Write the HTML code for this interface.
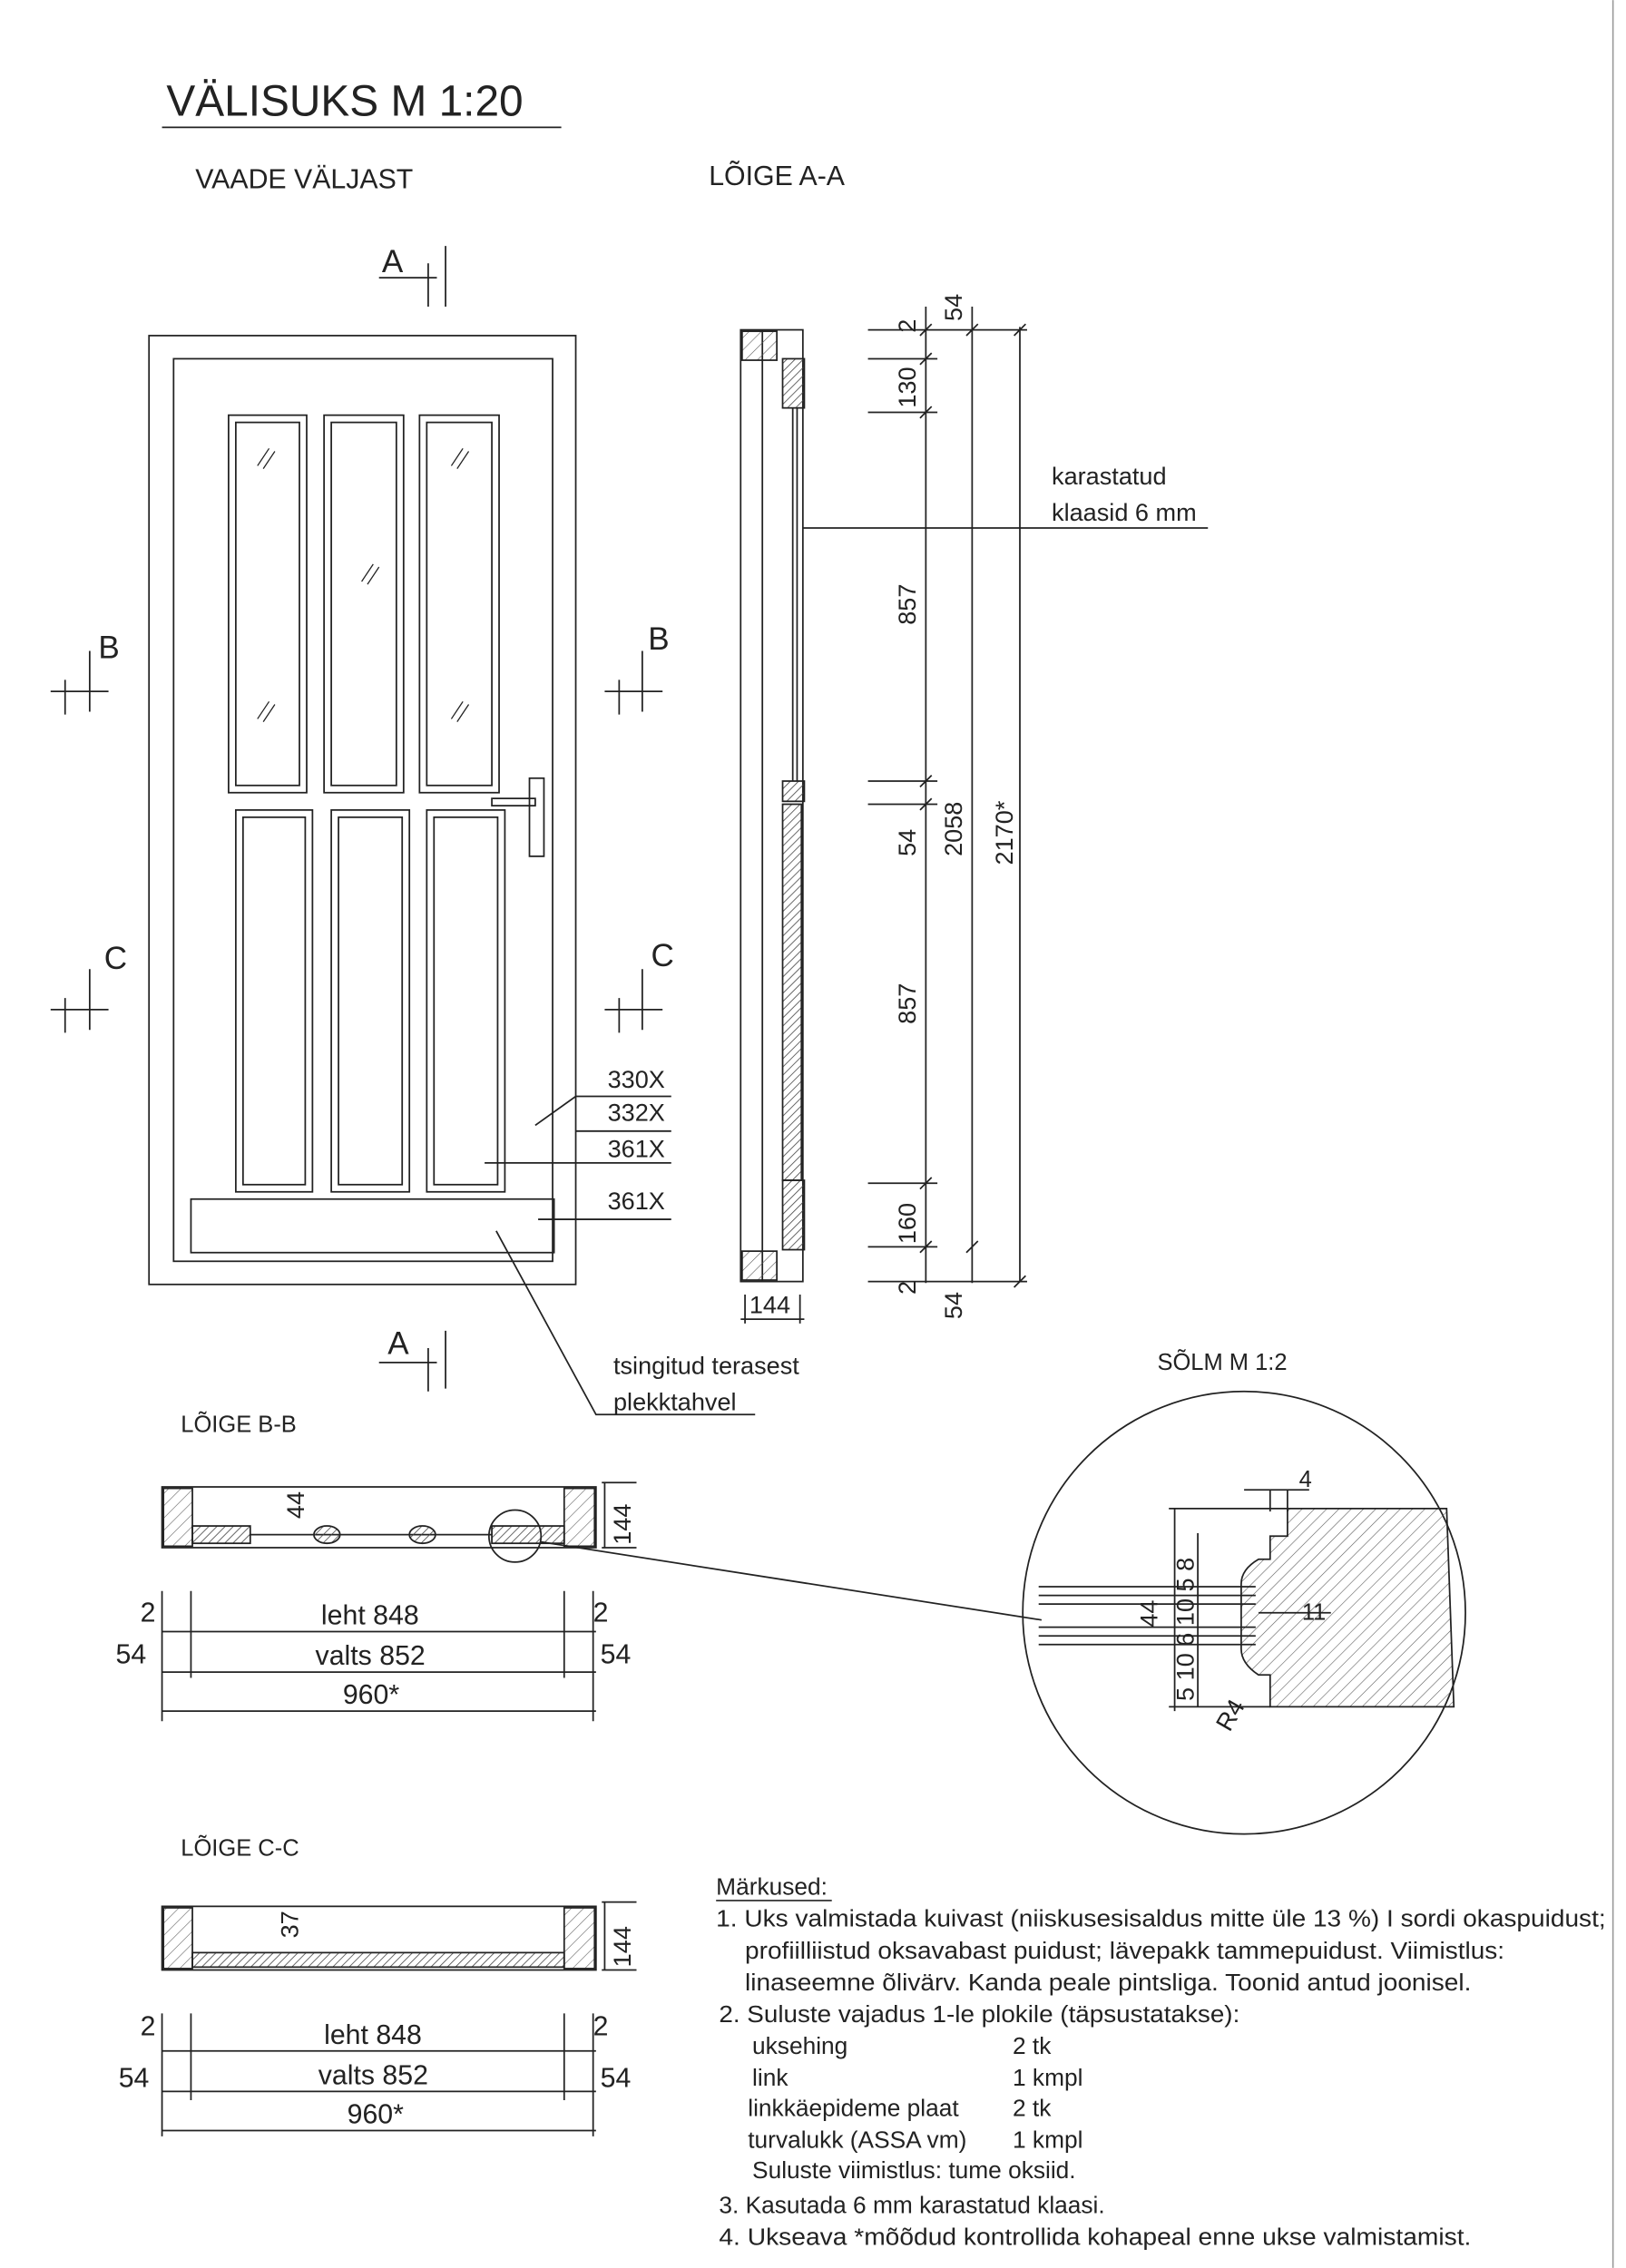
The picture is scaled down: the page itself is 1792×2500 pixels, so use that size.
<!DOCTYPE html>
<html><head><meta charset="utf-8"><style>
html,body{margin:0;padding:0;background:#fff}
svg{display:block}
text{font-family:"Liberation Sans",sans-serif;fill:#222}
</style></head><body>
<svg width="1792" height="2500" viewBox="0 0 1124 1568" xmlns="http://www.w3.org/2000/svg">
<defs>
<pattern id="h" width="4" height="4" patternUnits="userSpaceOnUse" patternTransform="rotate(45)"><line x1="0" y1="0" x2="0" y2="4" stroke="#444" stroke-width="1"/></pattern>
<pattern id="h2" width="6" height="6" patternUnits="userSpaceOnUse" patternTransform="rotate(45)"><line x1="0" y1="0" x2="0" y2="6" stroke="#555" stroke-width="0.7"/></pattern>
</defs>
<rect width="1124" height="1568" fill="#fff"/>
<line x1="1115" y1="0" x2="1115" y2="1568" stroke="#999" stroke-width="1"/>
<g stroke="#222" fill="none" stroke-width="1.1">
<line x1="112" y1="88" x2="388" y2="88"/>
<rect x="103" y="232" width="295" height="656"/>
<rect x="120" y="248" width="262" height="624"/>
<rect x="158" y="287" width="54" height="261"/><rect x="163" y="292" width="44" height="251"/>
<rect x="224" y="287" width="55" height="261"/><rect x="229" y="292" width="45" height="251"/>
<rect x="290" y="287" width="55" height="261"/><rect x="295" y="292" width="45" height="251"/>
<rect x="163" y="560" width="53" height="264"/><rect x="168" y="565" width="43" height="254"/>
<rect x="229" y="560" width="54" height="264"/><rect x="234" y="565" width="44" height="254"/>
<rect x="295" y="560" width="54" height="264"/><rect x="300" y="565" width="44" height="254"/>
<rect x="132" y="829" width="251" height="37"/>
<rect x="366" y="538" width="10" height="54"/><rect x="340" y="552" width="30" height="5"/>
<path d="M178 322l8-12M182 324l8-12M250 402l8-12M254 404l8-12M312 322l8-12M316 324l8-12M178 497l8-12M182 499l8-12M312 497l8-12M316 499l8-12" stroke-width="0.8"/>
<path d="M262 192h40M296 182v30M308 170v42"/>
<path d="M262 942h40M296 932v30M308 920v40"/>
<path d="M35 478h40M45 470v24M62 450v42"/><path d="M418 478h40M428 470v24M444 450v42"/>
<path d="M35 698h40M45 690v24M62 670v42"/><path d="M418 698h40M428 690v24M444 670v42"/>
<path d="M370 778 L398 758h66M398 782h66M335 804l70 0h59M372 843h92M343 851 L412 978h110"/>
<rect x="512" y="228" width="43" height="658"/>
<line x1="527" y1="228" x2="527" y2="886"/>
<rect x="513" y="229" width="24" height="20" fill="url(#h2)"/>
<rect x="513" y="865" width="24" height="20" fill="url(#h2)"/>
<rect x="541" y="248" width="15" height="34" fill="url(#h)"/>
<line x1="548" y1="282" x2="548" y2="540"/><line x1="551" y1="282" x2="551" y2="540"/>
<rect x="541" y="540" width="15" height="14" fill="url(#h)"/>
<rect x="541" y="556" width="13" height="260" fill="url(#h)"/>
<rect x="541" y="816" width="15" height="48" fill="url(#h)"/>
<path d="M555 365h280"/>
<path d="M512 912h44M515 895v20M553 895v20"/>
<path d="M640 212v675M672 212v675M705 226v660M600 228h110M600 248h48M600 285h48M600 540h48M600 556h48M600 818h48M600 862h48M600 886h110"/>
<path d="M636 232l8-8M636 252l8-8M636 289l8-8M636 544l8-8M636 560l8-8M636 822l8-8M636 866l8-8M668 232l8-8M668 866l8-8M701 232l8-8M701 890l8-8"/>
<rect x="112" y="1028" width="300" height="42"/>
<rect x="113" y="1029" width="20" height="40" fill="url(#h2)"/>
<rect x="390" y="1029" width="21" height="40" fill="url(#h2)"/>
<rect x="133" y="1055" width="40" height="12" fill="url(#h)"/>
<rect x="340" y="1055" width="50" height="12" fill="url(#h)"/>
<line x1="173" y1="1061" x2="340" y2="1061"/>
<ellipse cx="226" cy="1061" rx="9" ry="6" fill="url(#h)"/><ellipse cx="292" cy="1061" rx="9" ry="6" fill="url(#h)"/>
<circle cx="356" cy="1062" r="18"/>
<path d="M374 1066 L720 1120"/>
<path d="M416 1025h24M416 1070h24M418 1025v45"/>
<path d="M112 1128h300M112 1156h300M112 1183h300M112 1100v90M132 1100v60M390 1100v60M410 1100v90"/>
<rect x="112" y="1318" width="300" height="44"/>
<rect x="113" y="1319" width="20" height="42" fill="url(#h2)"/>
<rect x="390" y="1319" width="21" height="42" fill="url(#h2)"/>
<rect x="133" y="1350" width="257" height="10" fill="url(#h)"/>
<path d="M416 1315h24M416 1362h24M418 1315v47"/>
<path d="M112 1418h300M112 1446h300M112 1473h300M112 1392v85M132 1392v60M390 1392v60M410 1392v85"/>
<circle cx="860" cy="1115" r="153"/>
<path d="M890 1043 H1000 L1005 1180 H878 V1158 H870 Q858 1150 858 1140 V1095 Q858 1085 870 1078 H878 V1062 H890 Z" fill="url(#h2)"/>
<path d="M718 1097h150M718 1103h150M718 1109h150M718 1125h150M718 1131h150M718 1137h150"/>
<path d="M808 1043h82M808 1180h70M812 1043v140M828 1060v120M878 1030v15M890 1030v15M860 1030h45"/>
<path d="M870 1115h50"/>
</g>
<g>
<text x="115" y="80" font-size="30">VÄLISUKS  M 1:20</text>
<text x="135" y="130" font-size="19">VAADE VÄLJAST</text>
<text x="490" y="128" font-size="19">LÕIGE A-A</text>
<text x="264" y="188" font-size="22">A</text><text x="268" y="936" font-size="22">A</text>
<text x="68" y="455" font-size="22">B</text><text x="448" y="449" font-size="22">B</text>
<text x="72" y="670" font-size="22">C</text><text x="450" y="668" font-size="22">C</text>
<text x="420" y="752" font-size="17">330X</text><text x="420" y="775" font-size="17">332X</text>
<text x="420" y="800" font-size="17">361X</text><text x="420" y="836" font-size="17">361X</text>
<text x="424" y="950" font-size="17">tsingitud terasest</text><text x="424" y="975" font-size="17">plekktahvel</text>
<text x="727" y="335" font-size="17">karastatud</text><text x="727" y="360" font-size="17">klaasid 6 mm</text>
<text x="518" y="908" font-size="17">144</text>
<g font-size="17">
<text transform="translate(633,230) rotate(-90)">2</text>
<text transform="translate(665,222) rotate(-90)">54</text>
<text transform="translate(633,282) rotate(-90)">130</text>
<text transform="translate(633,432) rotate(-90)">857</text>
<text transform="translate(633,592) rotate(-90)">54</text>
<text transform="translate(665,592) rotate(-90)">2058</text>
<text transform="translate(700,598) rotate(-90)">2170*</text>
<text transform="translate(633,708) rotate(-90)">857</text>
<text transform="translate(633,860) rotate(-90)">160</text>
<text transform="translate(633,895) rotate(-90)">2</text>
<text transform="translate(665,912) rotate(-90)">54</text>
<text transform="translate(210,1050) rotate(-90)">44</text>
<text transform="translate(436,1068) rotate(-90)">144</text>
<text transform="translate(206,1340) rotate(-90)">37</text>
<text transform="translate(436,1360) rotate(-90)">144</text>
<text transform="translate(800,1125) rotate(-90)">44</text>
<text transform="translate(825,1176) rotate(-90)">5 10 6 10 5 8</text>
<text transform="translate(850,1198) rotate(-60)">R4</text>
</g>
<text x="800" y="947" font-size="16">SÕLM  M 1:2</text>
<text x="898" y="1028" font-size="16">4</text>
<text x="900" y="1120" font-size="16">11</text>
<text x="125" y="990" font-size="16">LÕIGE B-B</text>
<text x="125" y="1283" font-size="16">LÕIGE C-C</text>
<g font-size="19">
<text x="97" y="1121">2</text><text x="222" y="1123">leht 848</text><text x="410" y="1121">2</text>
<text x="80" y="1150">54</text><text x="218" y="1151">valts 852</text><text x="415" y="1150">54</text>
<text x="237" y="1178">960*</text>
<text x="97" y="1407">2</text><text x="224" y="1413">leht 848</text><text x="410" y="1407">2</text>
<text x="82" y="1443">54</text><text x="220" y="1441">valts 852</text><text x="415" y="1443">54</text>
<text x="240" y="1468">960*</text>
</g>
<g font-size="16.5">
<text x="495" y="1310">Märkused:</text>
<line x1="495" y1="1314" x2="575" y2="1314" stroke="#222"/>
<text x="495" y="1332" textLength="615" lengthAdjust="spacingAndGlyphs">1. Uks valmistada kuivast (niiskusesisaldus mitte üle 13 %) I sordi okaspuidust;</text>
<text x="515" y="1354" textLength="525" lengthAdjust="spacingAndGlyphs">profiilliistud oksavabast puidust; lävepakk tammepuidust. Viimistlus:</text>
<text x="515" y="1376" textLength="502" lengthAdjust="spacingAndGlyphs">linaseemne õlivärv. Kanda peale pintsliga. Toonid antud joonisel.</text>
<text x="497" y="1398" textLength="360" lengthAdjust="spacingAndGlyphs">2. Suluste vajadus 1-le plokile (täpsustatakse):</text>
<text x="520" y="1420">uksehing</text><text x="700" y="1420">2 tk</text>
<text x="520" y="1442">link</text><text x="700" y="1442">1 kmpl</text>
<text x="517" y="1463">linkkäepideme plaat</text><text x="700" y="1463">2 tk</text>
<text x="517" y="1485">turvalukk (ASSA vm)</text><text x="700" y="1485">1 kmpl</text>
<text x="520" y="1506">Suluste viimistlus: tume oksiid.</text>
<text x="497" y="1530">3. Kasutada 6 mm karastatud klaasi.</text>
<text x="497" y="1552" textLength="520" lengthAdjust="spacingAndGlyphs">4. Ukseava *mõõdud kontrollida kohapeal enne ukse valmistamist.</text>
</g>
</g>
</svg>
</body></html>
